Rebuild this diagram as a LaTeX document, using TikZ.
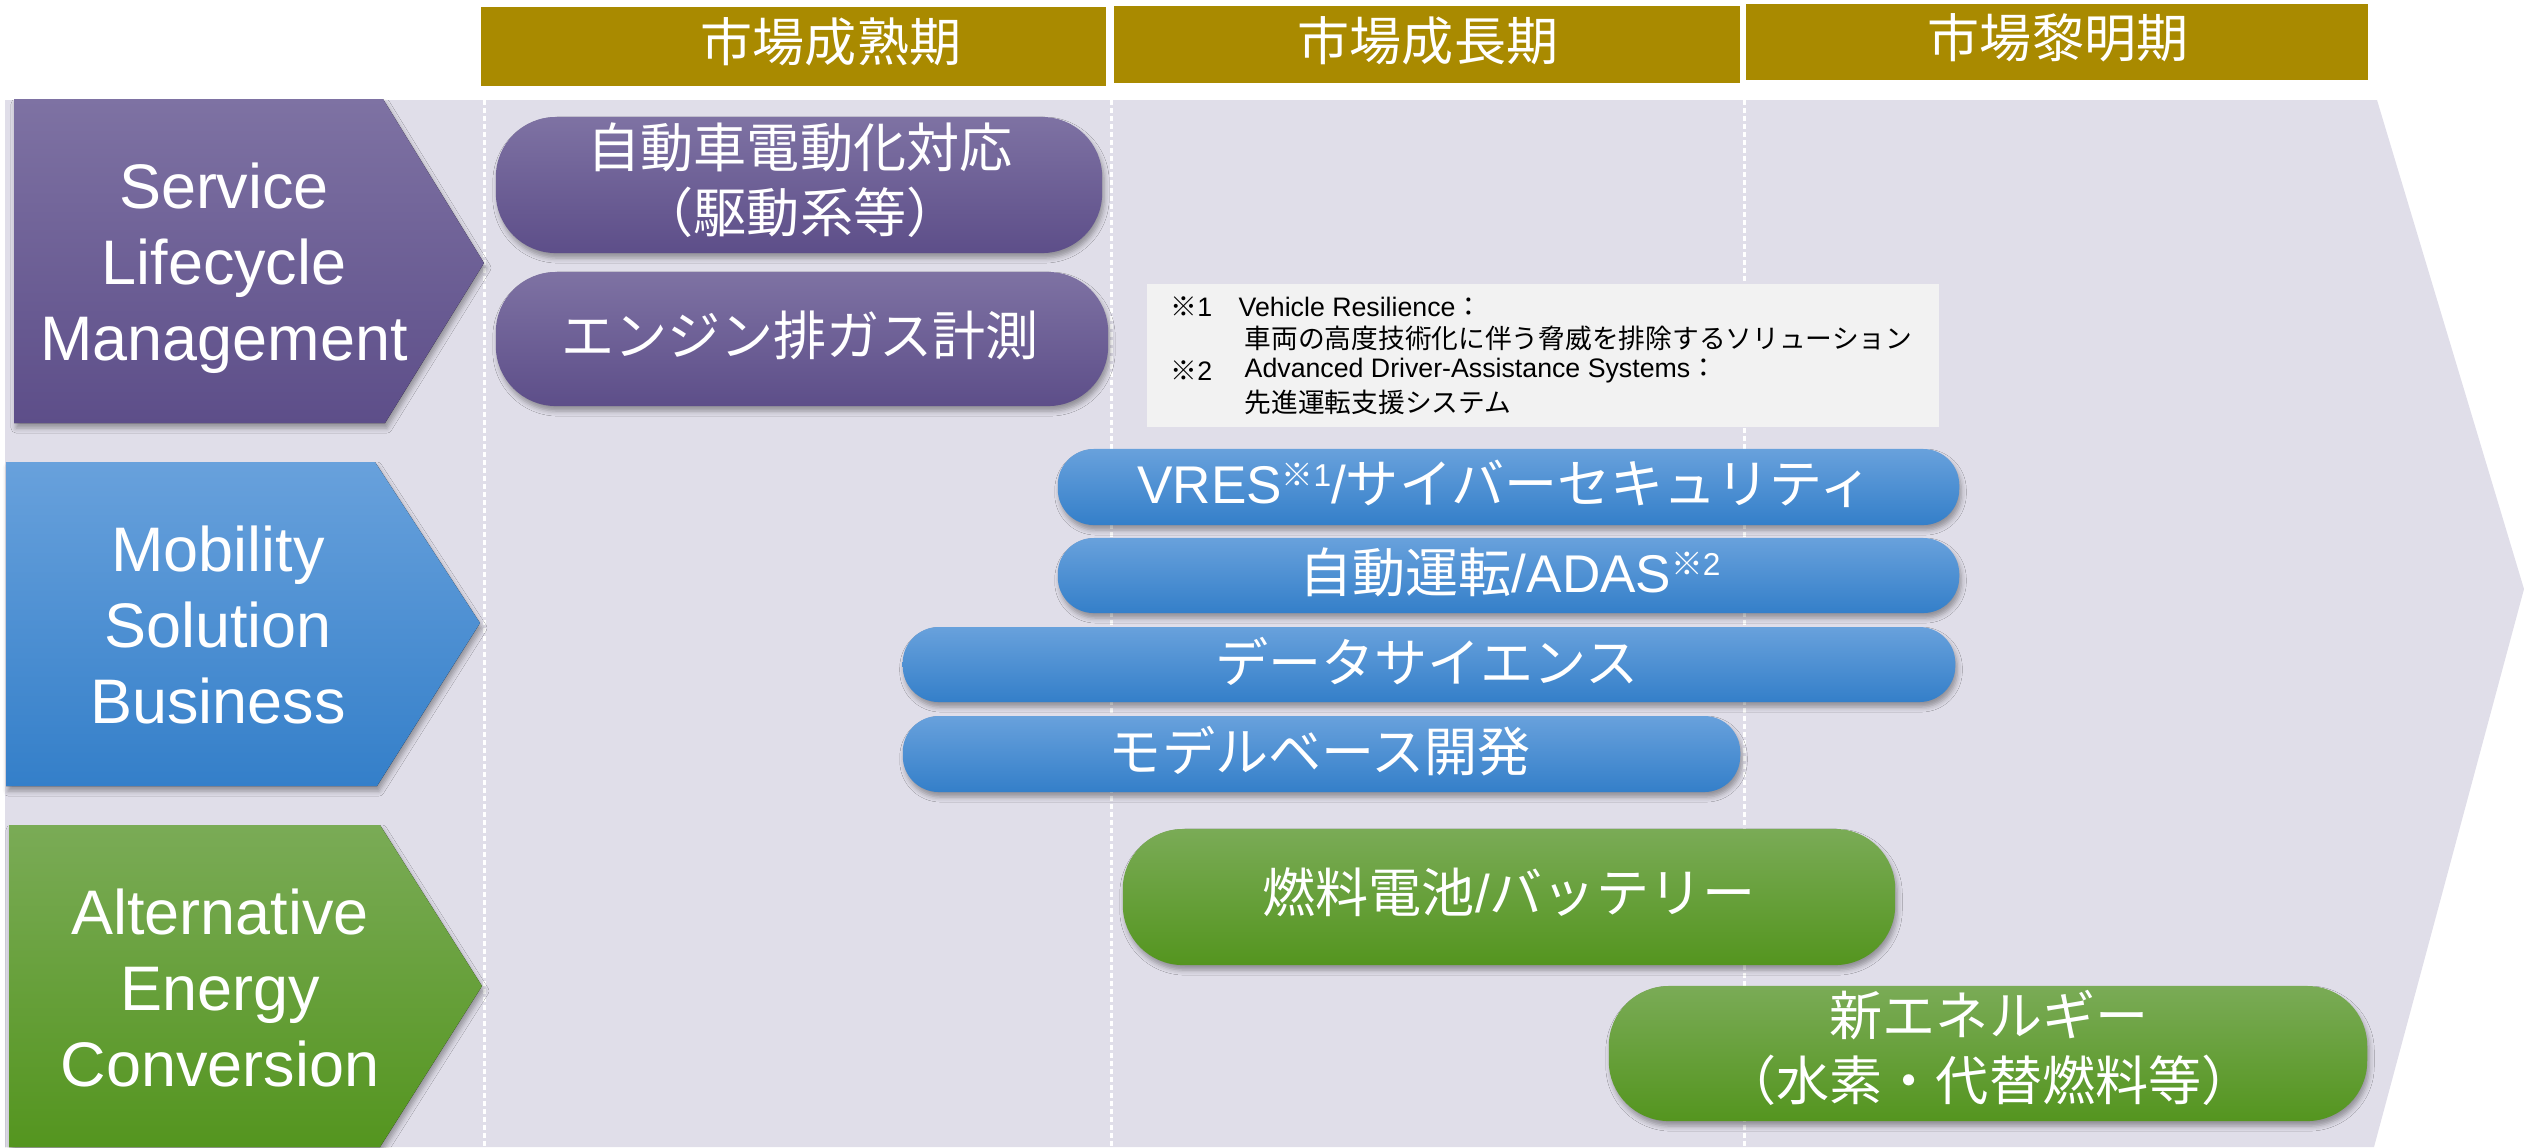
\documentclass[tikz,border=0pt]{standalone}
\usepackage{fontspec}
\setmainfont{Liberation Sans}
\newfontfamily\cjk{Noto Sans CJK JP}
\usetikzlibrary{shadows.blur}
\definecolor{bgl}{HTML}{E0DEE9}
\definecolor{gold}{HTML}{A98A00}
\definecolor{noteg}{HTML}{F2F2F2}
\definecolor{puT}{HTML}{7E72A3}
\definecolor{puB}{HTML}{5D4E89}
\definecolor{blT}{HTML}{68A1DC}
\definecolor{blB}{HTML}{347FC9}
\definecolor{grT}{HTML}{7AAB56}
\definecolor{grB}{HTML}{54951F}
\newcommand\jp[1]{{\cjk #1}}
\newcommand\supmark[1]{\raisebox{4.8pt}{\fontsize{9pt}{9pt}\selectfont\jp{※}#1}}
\newcommand\fsPill{\fontsize{15.1pt}{18.5pt}\selectfont}
\newcommand\fsChev{\fontsize{17.9pt}{21.6pt}\selectfont}
\newcommand\fsHead{\fontsize{14.8pt}{17pt}\selectfont}
\newcommand\fsNote{\fontsize{7.6pt}{9pt}\selectfont}
\tikzset{
  shd/.style={blur shadow={shadow xshift=0.02cm, shadow yshift=-0.05cm, shadow blur radius=0.05cm, shadow opacity=35}},
  purp/.style={top color=puT, bottom color=puB},
  blu/.style={top color=blT, bottom color=blB},
  grn/.style={top color=grT, bottom color=grB},
  tallpill/.style={shd, draw=none, rounded corners=0.6cm, inner sep=0pt},
  lowpill/.style={shd, draw=none, rounded corners=0.36cm, inner sep=0pt},
  wtext/.style={text=white, align=center, inner sep=0pt},
  headbox/.style={fill=gold, inner sep=0pt},
  vline/.style={white, line width=0.03cm, dash pattern=on 0.05cm off 0.03cm},
  notetext/.style={anchor=west, inner sep=0pt, font=\fsNote}
}
\begin{document}
\begin{tikzpicture}[x=0.01cm,y=-0.01cm]
\useasboundingbox (0,0) rectangle (2524,1147);
% background arrow
\fill[bgl] (5,100) -- (2377,100) -- (2524,589) -- (2374,1147) -- (5,1147) -- cycle;
% dashed separators
\draw[vline] (484,100) -- (484,1147);
\draw[vline] (1111,100) -- (1111,1147);
\draw[vline] (1744,100) -- (1744,1147);
% header boxes
\node[headbox, minimum width=6.25cm, minimum height=0.79cm] (h1) at (793.5,46.5) {};
\node[headbox, minimum width=6.26cm, minimum height=0.77cm] (h2) at (1427,44.5) {};
\node[headbox, minimum width=6.22cm, minimum height=0.76cm] (h3) at (2057,42) {};
\node[wtext, font=\fsHead] (h1t) at (831,42) {\jp{市場成熟期}};
\node[wtext, font=\fsHead] (h2t) at (1428,41) {\jp{市場成長期}};
\node[wtext, font=\fsHead] (h3t) at (2058,38) {\jp{市場黎明期}};
% chevrons
\fill[shd, purp] (14,99) -- (383,99) -- (484,263) -- (385,423) -- (14,423) -- cycle;
\fill[shd, blu] (6,462) -- (375,462) -- (480,623) -- (377,786) -- (6,786) -- cycle;
\fill[shd, grn] (9,825) -- (380,825) -- (482,986) -- (380,1147) -- (9,1147) -- cycle;
\node[wtext, font=\fsChev] (c1) at (224,268) {Service\\Lifecycle\\Management};
\node[wtext, font=\fsChev] (c2) at (218,625) {Mobility\\Solution\\Business};
\node[wtext, font=\fsChev] (c3) at (220,988) {Alternative\\Energy\\Conversion};
% note box
\node[fill=noteg, inner sep=0pt, minimum width=7.92cm, minimum height=1.43cm] (note) at (1543,355.5) {};
\node[notetext] (n1a) at (1170,307) {\jp{※}1};
\node[notetext] (n1b) at (1238,307) {Vehicle Resilience\jp{：}};
\node[notetext] (n1c) at (1244,338) {\jp{車両の高度技術化に伴う脅威を排除するソリューション}};
\node[notetext] (n2a) at (1170,371) {\jp{※}2};
\node[notetext] (n2b) at (1244,371) {Advanced Driver-Assistance Systems\jp{：}};
\node[notetext] (n2c) at (1244,402) {\jp{先進運転支援システム}};
% purple pills
\node[tallpill, purp, minimum width=6.06cm, minimum height=1.36cm] (p1) at (799,185) {};
\node[wtext, font=\fsPill] (p1t) at (800,180) {\jp{自動車電動化対応}\\\jp{（駆動系等）}};
\node[tallpill, purp, minimum width=6.12cm, minimum height=1.34cm] (p2) at (802,339) {};
\node[wtext, font=\fsPill] (p2t) at (800,335) {\jp{エンジン排ガス計測}};
% blue pills
\node[lowpill, blu, minimum width=9.01cm, minimum height=0.76cm] (b1) at (1508.5,487) {};
\node[wtext, font=\fsPill] (b1t) at (1505,484) {VRES\supmark{1}/\jp{サイバーセキュリティ}};
\node[lowpill, blu, minimum width=9.01cm, minimum height=0.75cm] (b2) at (1508.5,575.5) {};
\node[wtext, font=\fsPill] (b2t) at (1510,572) {\jp{自動運転}/ADAS\supmark{2}};
\node[lowpill, blu, minimum width=10.52cm, minimum height=0.75cm] (b3) at (1429,664.5) {};
\node[wtext, font=\fsPill] (b3t) at (1427,661) {\jp{データサイエンス}};
\node[lowpill, blu, minimum width=8.37cm, minimum height=0.76cm] (b4) at (1321.5,754) {};
\node[wtext, font=\fsPill] (b4t) at (1320,751) {\jp{モデルベース開発}};
% green pills
\node[tallpill, grn, minimum width=7.72cm, minimum height=1.36cm] (g1) at (1509,897) {};
\node[wtext, font=\fsPill] (g1t) at (1509,892) {\jp{燃料電池}/\jp{バッテリー}};
\node[tallpill, grn, minimum width=7.58cm, minimum height=1.35cm] (g2) at (1988,1053.5) {};
\node[wtext, font=\fsPill] (g2t) at (1989,1048) {\jp{新エネルギー}\\\jp{（水素・代替燃料等）}};
\end{tikzpicture}
\end{document}
